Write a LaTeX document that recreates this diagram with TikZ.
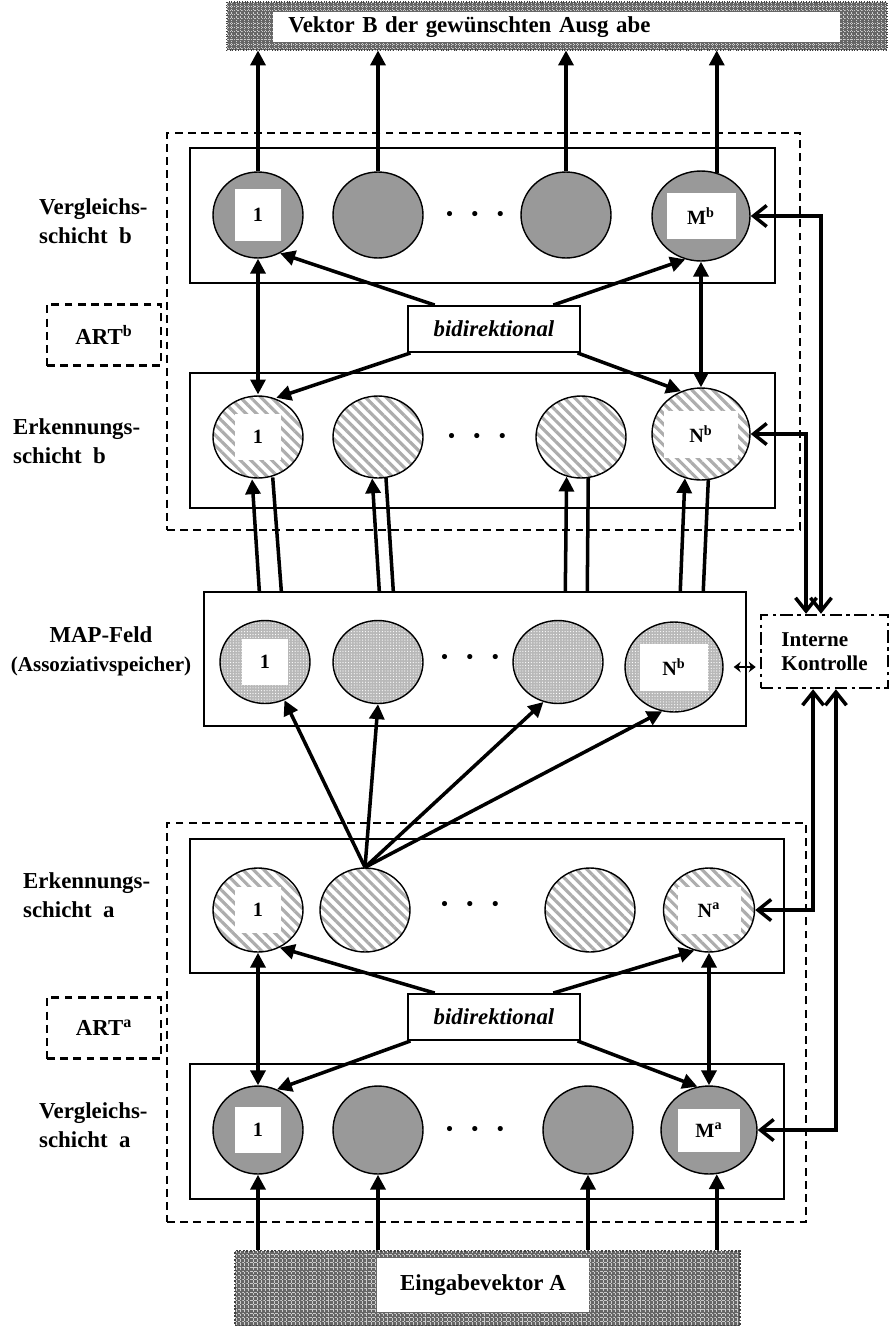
\documentclass[tikz,border=0pt]{standalone}
\usepackage{fontspec}
\setmainfont{Liberation Serif}
\usetikzlibrary{shapes.geometric,arrows.meta,patterns.meta}

\begin{document}
\begin{tikzpicture}[x=0.02cm, y=-0.02cm, font=\bfseries\fontsize{13}{16}\selectfont,
  >={Triangle[length=8.5pt,width=8.5pt]},
  layer/.style={draw, line width=0.8pt, minimum width=#1, minimum height=2.7cm},
  art/.style={draw, dash pattern=on 4.5pt off 3pt, line width=1.4pt},
  io/.style={draw=black!75, densely dotted, line width=1pt, preaction={fill=black!60},
    pattern={Lines[angle=0,distance=2.4pt,line width=0.5pt]}, pattern color=white!80!black,
    postaction={pattern={Lines[angle=90,distance=2.4pt,line width=0.5pt]}, pattern color=white!80!black}},
  vgl/.style={ellipse, draw, line width=0.8pt, inner sep=0pt, fill=black!40, minimum width=1.8cm, minimum height=1.72cm},
  erk/.style={ellipse, draw, line width=0.8pt, inner sep=0pt, preaction={fill=white},
    pattern={Lines[angle=-45,distance=4.2pt,line width=1.8pt]}, pattern color=black!32,
    minimum width=1.8cm, minimum height=1.64cm},
  mapc/.style={ellipse, draw, line width=0.8pt, inner sep=0pt, preaction={fill=black!28},
    pattern={Dots[distance=1.6pt,radius=0.35pt]}, pattern color=white,
    minimum width=1.8cm, minimum height=1.66cm},
  lbl/.style={fill=white, inner sep=0pt, minimum width=0.92cm, minimum height=0.92cm,
    font=\bfseries\fontsize{11.5}{13}\selectfont},
  dots/.style={font=\bfseries\fontsize{18}{20}\selectfont},
  side/.style={anchor=west, align=left, font=\bfseries\fontsize{13}{16.5}\selectfont},
  bid/.style={draw, line width=1.1pt, minimum width=3.44cm, minimum height=0.92cm,
    font=\bfseries\itshape\fontsize{13}{16}\selectfont},
  ctrlbox/.style={draw, line width=1.4pt, dash pattern=on 7pt off 2.5pt on 2pt off 2.5pt,
    minimum width=2.54cm, minimum height=1.46cm, align=left, font=\bfseries\fontsize{12}{13.6}\selectfont},
  arr/.style={line width=2pt, ->},
  bi/.style={line width=2pt, <->},
  ln/.style={line width=2pt},
  ctl/.style={line width=2pt, {Straight Barb[length=7.5pt,width=12pt]}-{Straight Barb[length=7.5pt,width=12pt]}},
  tiny/.style={line width=1.2pt, {Stealth[length=4pt,width=6pt]}-{Stealth[length=4pt,width=6pt]}}]

\useasboundingbox (0,0) rectangle (889,1326);

% output and input vectors
\node[io, minimum width=13.2cm, minimum height=0.96cm] (outB) at (557,26) {};
\node[fill=white, anchor=west, inner sep=0.3cm, text width=10.74cm, minimum height=0.6cm, inner ysep=0pt] (outBt) at (273,27) {Vektor B der gewünschten Ausg abe};
\node[io, minimum width=10.1cm, minimum height=1.5cm] (inA) at (487.5,1288.5) {};
\node[fill=white, minimum width=4.24cm, minimum height=1.08cm] (inAt) at (483,1285) {Eingabevektor A};

% ART modules
\node[art, minimum width=12.66cm, minimum height=7.94cm] (artB) at (483.5,331.5) {};
\node[art, minimum width=12.78cm, minimum height=7.98cm] (artA) at (486.5,1022.5) {};
\node[art, minimum width=2.28cm, minimum height=1.22cm] (artBL) at (104,335) {ART\textsuperscript{b}};
\node[art, minimum width=2.28cm, minimum height=1.22cm] (artAL) at (104,1028) {ART\textsuperscript{a}};

% layers
\node[layer=11.7cm] (vbB) at (482.5,215.5) {};
\node[layer=11.7cm] (ebB) at (482.5,440.5) {};
\node[layer=10.84cm, minimum height=2.68cm] (mapB) at (475,659) {};
\node[layer=11.88cm, minimum height=2.68cm] (eaB) at (487,906) {};
\node[layer=11.88cm] (vaB) at (487,1131.5) {};

\node[side] (vbL) at (33,221) {Vergleichs-\\schicht\ \ b};
\node[side] (ebL) at (7,441) {Erkennungs-\\schicht\ \ b};
\node[align=center, font=\bfseries\fontsize{13}{16.5}\selectfont] (mapL) at (101,651) {MAP-Feld\\{\fontsize{12}{14}\selectfont(Assoziativspeicher)}};
\node[side] (eaL) at (17,895) {Erkennungs-\\schicht\ \ a};
\node[side] (vaL) at (33,1125) {Vergleichs-\\schicht\ \ a};

% Vergleichsschicht b
\node[vgl] (vb1) at (258,215) {};
\node[vgl] (vb2) at (378,215) {};
\node[vgl] (vb3) at (566,215) {};
\node[vgl, minimum width=1.96cm, minimum height=1.8cm] (vbM) at (701,216) {};
\node[lbl, minimum height=1.04cm] (vb1t) at (vb1) {1};
\node[lbl, minimum width=1.38cm] (vbMt) at (vbM) {M\textsuperscript{b}};
\node[dots] (vbd) at (475,218) {·\hspace{0.47em}·\hspace{0.47em}·};

% Erkennungsschicht b
\node[erk] (eb1) at (258,437) {};
\node[erk] (eb2) at (378,437) {};
\node[erk] (eb3) at (581,437) {};
\node[erk, minimum width=1.96cm, minimum height=1.84cm] (ebN) at (701,434) {};
\node[lbl] (eb1t) at (eb1) {1};
\node[lbl, minimum width=1.48cm, minimum height=0.94cm] (ebNt) at (ebN) {N\textsuperscript{b}};
\node[dots] (ebd) at (477,440) {·\hspace{0.47em}·\hspace{0.47em}·};

% MAP-Feld
\node[mapc] (mp1) at (265,662) {};
\node[mapc] (mp2) at (378,662) {};
\node[mapc] (mp3) at (558,662) {};
\node[mapc, minimum width=1.96cm, minimum height=1.8cm] (mpN) at (674,667) {};
\node[lbl] (mp1t) at (mp1) {1};
\node[lbl, minimum width=1.38cm, minimum height=0.94cm] (mpNt) at (mpN) {N\textsuperscript{b}};
\node[dots] (mpd) at (470,661) {·\hspace{0.47em}·\hspace{0.47em}·};

% Erkennungsschicht a
\node[erk, minimum height=1.68cm] (ea1) at (258,910) {};
\node[erk, minimum height=1.68cm] (ea2) at (365,910) {};
\node[erk, minimum height=1.68cm] (ea3) at (590,910) {};
\node[erk, minimum width=1.82cm, minimum height=1.68cm] (eaN) at (709,910) {};
\node[lbl] (ea1t) at (ea1) {1};
\node[lbl, minimum width=1.26cm, minimum height=0.94cm] (eaNt) at (eaN) {N\textsuperscript{a}};
\node[dots] (ead) at (470,908) {·\hspace{0.47em}·\hspace{0.47em}·};

% Vergleichsschicht a
\node[vgl, minimum height=1.76cm] (va1) at (258,1130) {};
\node[vgl, minimum height=1.76cm] (va2) at (378,1130) {};
\node[vgl, minimum height=1.76cm] (va3) at (588,1130) {};
\node[vgl, minimum width=1.92cm, minimum height=1.76cm] (vaM) at (709,1130) {};
\node[lbl] (va1t) at (va1) {1};
\node[lbl, minimum width=1.24cm, minimum height=0.86cm] (vaMt) at (vaM) {M\textsuperscript{a}};
\node[dots] (vad) at (475,1133) {·\hspace{0.47em}·\hspace{0.47em}·};

\node[bid] (bidB) at (494,329) {bidirektional};
\node[bid] (bidA) at (494,1017) {bidirektional};
\node[ctrlbox] (ctrl) at (824.5,651.5) {Interne\\Kontrolle};

% output arrows
\draw[arr] (vb1.north) -- (vb1.north |- outB.south);
\draw[arr] (vb2.north) -- (vb2.north |- outB.south);
\draw[arr] (vb3.north) -- (vb3.north |- outB.south);
\draw[arr] (vbM.70) -- (vbM.70 |- outB.south);

% input arrows
\draw[arr] (va1.south |- inA.north) -- (va1.south);
\draw[arr] (va2.south |- inA.north) -- (va2.south);
\draw[arr] (va3.south |- inA.north) -- (va3.south);
\draw[arr] (vaM.-80 |- inA.north) -- (vaM.-80);

% inside ART b
\draw[bi] (vb1.south) -- (eb1.north);
\draw[bi] (vbM.south) -- (ebN.north);
\draw[arr] (bidB.158) -- (vb1.-60);
\draw[arr] (bidB.22) -- (vbM.-110);
\draw[arr] (bidB.196) -- (eb1.65);
\draw[arr] (bidB.-16) -- (ebN.115);

% MAP-Feld to Erkennungsschicht b
\draw[arr] ([xshift=1.12cm]mapB.north west) -- (eb1.-98);
\draw[ln] ([xshift=1.56cm]mapB.north west) -- (eb1.-70);
\draw[arr] ([xshift=3.52cm]mapB.north west) -- (eb2.-98);
\draw[ln] ([xshift=3.8cm]mapB.north west) -- (eb2.-79);
\draw[arr] ([xshift=7.24cm]mapB.north west) -- (eb3.-110);
\draw[ln] ([xshift=7.68cm]mapB.north west) -- (eb3.-80);
\draw[arr] ([xshift=9.54cm]mapB.north west) -- (ebN.-110);
\draw[ln] ([xshift=10cm]mapB.north west) -- (ebN.-81);

% Erkennungsschicht a to MAP-Feld
\draw[arr] (ea2.north) -- (mp1.-63);
\draw[arr] (ea2.north) -- (mp2.south);
\draw[arr] (ea2.north) -- (mp3.-110);
\draw[arr] (ea2.north) -- (mpN.-105);

% inside ART a
\draw[bi] (ea1.south) -- (va1.north);
\draw[bi] (eaN.south) -- (vaM.north);
\draw[arr] (bidA.158) -- (ea1.-60);
\draw[arr] (bidA.22) -- (eaN.-110);
\draw[arr] (bidA.196) -- (va1.65);
\draw[arr] (bidA.-16) -- (vaM.105);

% internal control
\draw[ctl] (vbM.east) -| ([xshift=-2pt]ctrl.north);
\draw[ctl] (ebN.east) -| ([xshift=-10.5pt]ctrl.north);
\draw[ctl] (eaN.east) -| ([xshift=-6.5pt]ctrl.south);
\draw[ctl] (vaM.east) -| ([xshift=6.5pt]ctrl.south);
\draw[tiny, shorten <=5.7pt, shorten >=2.3pt] (mpN.east) -- (mpN.east -| ctrl.west);
\end{tikzpicture}
\end{document}
